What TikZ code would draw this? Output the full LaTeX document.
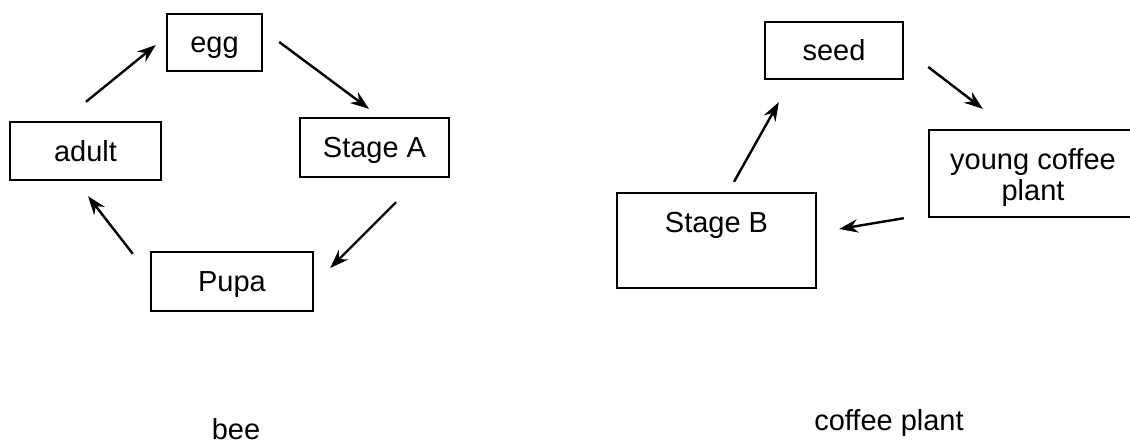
\documentclass[tikz,border=0pt]{standalone}
\usepackage{fontspec}
\setmainfont{Liberation Sans}
\usetikzlibrary{arrows.meta}

\begin{document}
\begin{tikzpicture}[x=0.75pt, y=-0.75pt, >={Stealth[length=14pt, width=10pt]},
        font=\fontsize{21.75pt}{22.5pt}\selectfont,
        stagebox/.style={draw, line width=1.8pt, inner sep=0pt, text height=15.6pt, text depth=0pt, align=center},
        cycle/.style={->, line width=1.8pt}]
                \useasboundingbox (0,0) rectangle (1130,445);

                \node[stagebox, minimum width=71.25pt, minimum height=42.75pt] (egg) at (214.5,42.5) {egg};
                \node[stagebox, minimum width=111.75pt, minimum height=44.25pt] (stageA) at (374.5,147.5) {Stage A};
                \node[stagebox, minimum width=121.5pt, minimum height=44.25pt] (pupa) at (232,281.5) {Pupa};
                \node[stagebox, minimum width=113.25pt, minimum height=43.5pt] (adult) at (85.5,151) {adult};

                \draw[cycle] ([shift={(16,-0.5)}]egg.east) -- ([shift={(-5.5,-8)}]stageA.north);
                \draw[cycle] ([shift={(21.5,24)}]stageA.south) -- ([shift={(16,-13.5)}]pupa.east);
                \draw[cycle] ([shift={(-17,3)}]pupa.north west) -- ([shift={(2.5,15)}]adult.south);
                \draw[cycle] ([shift={(0.5,-19)}]adult.north) -- ([shift={(-10,2.5)}]egg.west);

                \node[stagebox, minimum width=103.5pt, minimum height=42.75pt] (seed) at (834,50.5) {seed};
                \node[stagebox, minimum width=156pt, minimum height=65.25pt, text height=39.75pt] (young) at (1033,173.5) {young coffee\\plant};
                \node[stagebox, minimum width=149.25pt, text height=30pt, text depth=41.25pt] (stageB) at (716.5,240.5) {Stage B};

                \draw[cycle] ([shift={(24,16.5)}]seed.east) -- ([shift={(55,-20)}]young.north west);
                \draw[cycle] ([shift={(-24,0)}]young.south west) -- ([shift={(22,-11.5)}]stageB.east);
                \draw[cycle] ([shift={(17.5,-10)}]stageB.north) -- ([shift={(15,22)}]seed.south west);

                \node[anchor=base] (bee) at (236,439) {bee};
                \node[anchor=base] (coffee) at (889,430) {coffee plant};
            \end{tikzpicture}
\end{document}
